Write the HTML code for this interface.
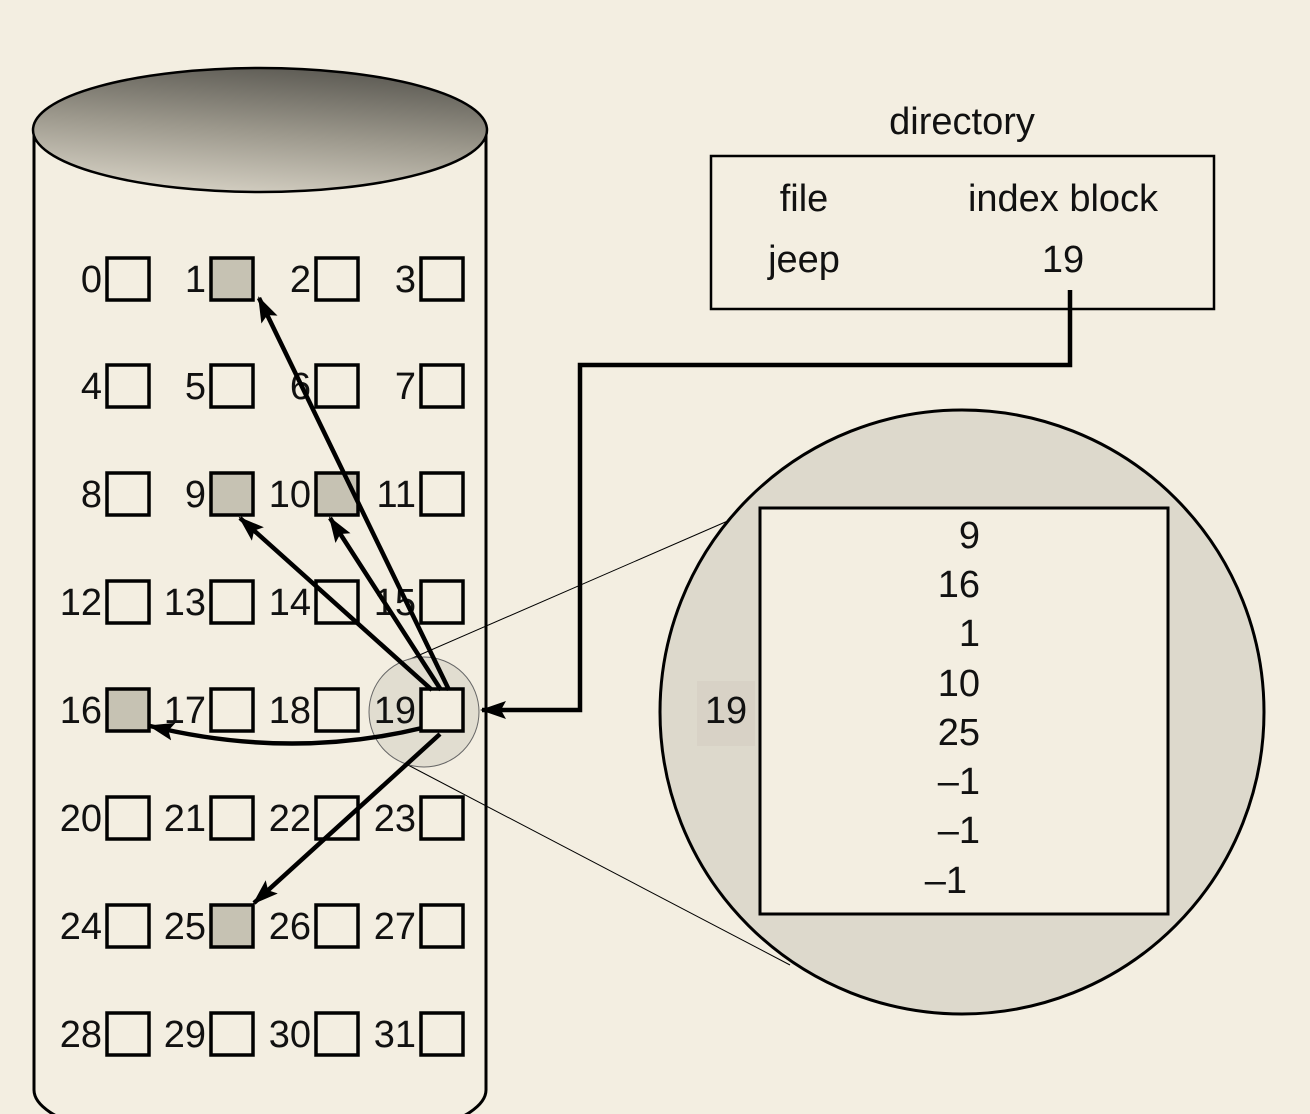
<!DOCTYPE html>
<html><head><meta charset="utf-8"><style>
html,body{margin:0;padding:0;background:#f3eee1;}
svg{display:block;}
text{font-family:"Liberation Sans",Arial,sans-serif;fill:#111;}
</style></head><body>
<svg width="1310" height="1114" viewBox="0 0 1310 1114" xmlns="http://www.w3.org/2000/svg">
<defs>
<linearGradient id="g" x1="0.3" y1="1" x2="0.6" y2="0">
<stop offset="0" stop-color="#d6d1c4"/>
<stop offset="0.5" stop-color="#9c988c"/>
<stop offset="1" stop-color="#5e5c55"/>
</linearGradient>
<marker id="ah2" markerWidth="26" markerHeight="18" refX="24" refY="9" orient="auto" markerUnits="userSpaceOnUse" viewBox="0 0 26 18">
<path d="M0,0 L26,9 L0,18 L5,9 Z" fill="#000"/>
</marker>
</defs>
<rect width="1310" height="1114" fill="#f3eee1"/>
<path d="M34,130 L34,1090 A226,60 0 0 0 486,1090 L486,130" fill="none" stroke="#000" stroke-width="3"/>
<ellipse cx="260" cy="130" rx="227" ry="62" fill="url(#g)" stroke="#000" stroke-width="2.5"/>

<line x1="408" y1="660" x2="730" y2="520" stroke="#000" stroke-width="1"/>
<line x1="408" y1="765" x2="790" y2="965" stroke="#000" stroke-width="1"/>

<circle cx="424" cy="712" r="55" fill="#ddd9cc" fill-opacity="0.85" stroke="#666" stroke-width="1"/>

<g font-size="38" text-anchor="end">
<text x="102" y="292">0</text><text x="206" y="292">1</text><text x="311" y="292">2</text><text x="416" y="292">3</text>
<text x="102" y="399">4</text><text x="206" y="399">5</text><text x="311" y="399">6</text><text x="416" y="399">7</text>
<text x="102" y="507">8</text><text x="206" y="507">9</text><text x="311" y="507">10</text><text x="416" y="507">11</text>
<text x="102" y="615">12</text><text x="206" y="615">13</text><text x="311" y="615">14</text><text x="416" y="615">15</text>
<text x="102" y="723">16</text><text x="206" y="723">17</text><text x="311" y="723">18</text><text x="416" y="723">19</text>
<text x="102" y="831">20</text><text x="206" y="831">21</text><text x="311" y="831">22</text><text x="416" y="831">23</text>
<text x="102" y="939">24</text><text x="206" y="939">25</text><text x="311" y="939">26</text><text x="416" y="939">27</text>
<text x="102" y="1047">28</text><text x="206" y="1047">29</text><text x="311" y="1047">30</text><text x="416" y="1047">31</text>
</g>
<g stroke="#000" stroke-width="3.5" fill="none">
<rect x="107" y="258" width="42" height="42"/><rect x="211" y="258" width="42" height="42" fill="#c6c2b3"/><rect x="316" y="258" width="42" height="42"/><rect x="421" y="258" width="42" height="42"/>
<rect x="107" y="365" width="42" height="42"/><rect x="211" y="365" width="42" height="42"/><rect x="316" y="365" width="42" height="42"/><rect x="421" y="365" width="42" height="42"/>
<rect x="107" y="473" width="42" height="42"/><rect x="211" y="473" width="42" height="42" fill="#c6c2b3"/><rect x="316" y="473" width="42" height="42" fill="#c6c2b3"/><rect x="421" y="473" width="42" height="42"/>
<rect x="107" y="581" width="42" height="42"/><rect x="211" y="581" width="42" height="42"/><rect x="316" y="581" width="42" height="42"/><rect x="421" y="581" width="42" height="42"/>
<rect x="107" y="689" width="42" height="42" fill="#c6c2b3"/><rect x="211" y="689" width="42" height="42"/><rect x="316" y="689" width="42" height="42"/><rect x="421" y="689" width="42" height="42" fill="#f3eee1"/>
<rect x="107" y="797" width="42" height="42"/><rect x="211" y="797" width="42" height="42"/><rect x="316" y="797" width="42" height="42"/><rect x="421" y="797" width="42" height="42"/>
<rect x="107" y="905" width="42" height="42"/><rect x="211" y="905" width="42" height="42" fill="#c6c2b3"/><rect x="316" y="905" width="42" height="42"/><rect x="421" y="905" width="42" height="42"/>
<rect x="107" y="1013" width="42" height="42"/><rect x="211" y="1013" width="42" height="42"/><rect x="316" y="1013" width="42" height="42"/><rect x="421" y="1013" width="42" height="42"/>
</g>

<g stroke="#000" stroke-width="4.5" fill="none">
<line x1="449" y1="690" x2="259" y2="298" marker-end="url(#ah2)"/>
<line x1="441" y1="690" x2="330" y2="518" marker-end="url(#ah2)"/>
<line x1="432" y1="690" x2="240" y2="518" marker-end="url(#ah2)"/>
<path d="M422,728 Q290,760 150,726" marker-end="url(#ah2)"/>
<line x1="440" y1="734" x2="254" y2="903" marker-end="url(#ah2)"/>
<polyline points="1070,290 1070,365 580,365 580,710 482,710" marker-end="url(#ah2)"/>
</g>

<text x="962" y="134" font-size="38" text-anchor="middle">directory</text>
<rect x="711" y="156" width="503" height="153" fill="none" stroke="#000" stroke-width="2.5"/>
<g font-size="38" text-anchor="middle">
<text x="804" y="211">file</text>
<text x="1063" y="211">index block</text>
<text x="804" y="272">jeep</text>
<text x="1063" y="272">19</text>
</g>

<circle cx="962" cy="712" r="302" fill="#ddd9cc" stroke="#000" stroke-width="3"/>
<rect x="697" y="681" width="58" height="65" fill="#d8d2c6"/>
<text x="726" y="723" font-size="38" text-anchor="middle">19</text>
<rect x="760" y="508" width="408" height="406" fill="#f3eee1" stroke="#000" stroke-width="3"/>
<g font-size="38" text-anchor="end">
<text x="980" y="548">9</text>
<text x="980" y="597">16</text>
<text x="980" y="646">1</text>
<text x="980" y="696">10</text>
<text x="980" y="745">25</text>
<text x="980" y="794">–1</text>
<text x="980" y="843">–1</text>
<text x="967" y="893">–1</text>
</g>
</svg>
</body></html>
